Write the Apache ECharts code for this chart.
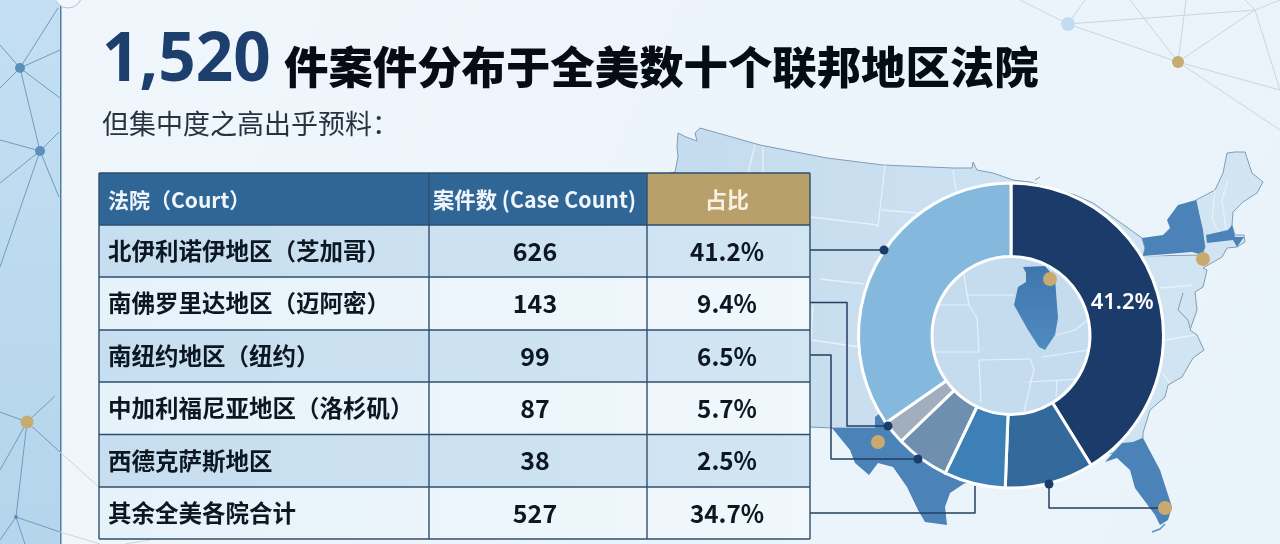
<!DOCTYPE html>
<html><head><meta charset="utf-8">
<style>html,body{margin:0;padding:0;background:#eef5fb}#c{width:1280px;height:544px}</style>
<script src="https://cdn.jsdelivr.net/npm/echarts@6/dist/echarts.min.js"></script>
</head><body><div id="c"></div>
<script>
var titleNumber = '1,520';
var titleText = '件案件分布于全美数十个联邦地区法院';
var subtitle = '但集中度之高出乎预料：';
var headers = ['法院（Court）', '案件数 (Case Count)', '占比'];
var courts = ['北伊利诺伊地区（芝加哥）','南佛罗里达地区（迈阿密）','南纽约地区（纽约）','中加利福尼亚地区（洛杉矶）','西德克萨斯地区','其余全美各院合计'];
var caseCounts = [626,143,99,87,38,527];
var shares = [41.2,9.4,6.5,5.7,2.5,34.7];
var sliceColors = ['#1b3b6b','#336a9b','#3c80b7','#6f8fae','#a0aebd','#85b8dd'];

var CJK = '"Noto Sans CJK SC","Noto Sans",sans-serif';
var g = [];
function poly(pts, fill, stroke, lw, z, closed){
  g.push({type: closed===false?'polyline':'polygon', z:z, silent:true,
    shape:{points:pts}, style:{fill:closed===false?'none':fill, stroke:stroke||'none', lineWidth:lw||0, lineJoin:'round'}});
}
function line(pts, color, lw, z){ poly(pts,null,color,lw,z,false); }
function dot(x,y,r,fill,z){ g.push({type:'circle',z:z,silent:true,shape:{cx:x,cy:y,r:r},style:{fill:fill}}); }
function text(t,x,y,size,color,weight,align,z,sx){
  g.push({type:'text',z:z,silent:true,x:x,y:y,scaleX:sx||1,style:{text:t,fill:color,font:(weight||'normal')+' '+size+'px '+CJK,textAlign:align||'left',textVerticalAlign:'middle'}});
}

/* background */
g.push({type:'rect',z:0,silent:true,shape:{x:0,y:0,width:1280,height:544},style:{fill:new echarts.graphic.LinearGradient(0,0,1,1,[{offset:0,color:'#f0f6fc'},{offset:1,color:'#e9f3fa'}])}});
g.push({type:'rect',z:0,silent:true,shape:{x:0,y:0,width:60,height:544},style:{fill:new echarts.graphic.LinearGradient(0,0,0,1,[{offset:0,color:'#c4dff2'},{offset:1,color:'#b4d5ec'}])}});
g.push({type:'rect',z:0,silent:true,shape:{x:60,y:0,width:1.5,height:544},style:{fill:'#4d7ea6'}});
g.push({type:'circle',z:0,silent:true,shape:{cx:68,cy:-6,r:14},style:{fill:'#f2f7fb',stroke:'#a9c5da',lineWidth:1}});

/* network, left */
var L='#6f9cc0';
[[[20,68],[58,8]],[[20,68],[60,50]],[[20,68],[60,98]],[[20,68],[0,88]],[[20,68],[40,151]],[[20,68],[0,45]],
 [[40,151],[0,140]],[[40,151],[0,183]],[[40,151],[0,267]],[[40,151],[59,197]],[[40,151],[59,132]],
 [[27,422],[55,396]],[[27,422],[0,412]],[[27,422],[0,470]],[[27,422],[16,517]],[[27,422],[60,452]],
 [[16,517],[0,540]],[[16,517],[60,532]],[[16,517],[25,544]]].forEach(function(s){line(s,L,1,1);});
line([[60,452],[100,488]],'#ccd5d8',1,1);
line([[60,532],[100,544]],'#ccd5d8',1,1);
line([[125,544],[150,540]],'#ccd5d8',1,1);
dot(20,68,5,'#5b90bb',2); dot(40,151,5,'#5b90bb',2); dot(27,422,6.5,'#c7ab72',2); dot(16,517,2,'#5b90bb',2);

/* network, top right */
var R='#c9d6dc';
[[[1068,24],[1020,0]],[[1068,24],[1085,0]],[[1068,24],[1255,10]],[[1068,24],[1178,62]],
 [[1178,62],[1130,0]],[[1178,62],[1186,0]],[[1178,62],[1255,10]],[[1178,62],[1280,90]],[[1178,62],[1280,130]],
 [[1255,10],[1280,90]],[[1255,10],[1245,0]],[[1255,10],[1280,0]]].forEach(function(s){line(s,R,1,1);});
dot(1068,24,7,'#c5dcef',2); dot(1178,62,6,'#c7ab72',2);

/* map */
var landFill = new echarts.graphic.LinearGradient(0,0,1,0,[{offset:0,color:'#c4dcee'},{offset:1,color:'#d3e5f3'}]);
var coast='#7f9db8';
poly([[678,133],[686,137],[697,141],[695,133],[700,128],[760,145],[827,158],[883,165],[953,168],[972,168],[973,162],[977,170],[993,173],[1013,180],[1030,182],[1075,195],[1093,203],[1142,238],[1145,248],[1143,256],
 [1202,255],[1205,247],[1196,200],[1215,190],[1223,173],[1227,153],[1235,152],[1245,152],[1252,173],[1263,182],[1257,193],[1243,202],[1233,212],[1232,225],[1235,235],[1244,235],[1245,242],[1237,247],[1227,248],[1222,257],[1203,268],[1207,270],[1203,287],[1195,292],[1197,310],[1190,330],[1197,335],[1204,350],[1193,358],[1182,377],[1168,385],[1165,397],[1150,410],[1143,433],[1143,438],[1113,453],[1040,470],[965,483],[875,428],[832,428],[810,427],[690,427],[670,173],[675,172],[678,157],[677,147]],landFill,coast,1,3);
line([[1035,180],[1040,177]],coast,1,4);
var wl='#e6f1f9';
[[[755,145],[748,173]],[[763,147],[763,173]],[[885,165],[878,227]],[[882,210],[917,213]],[[953,170],[956,190]],[[810,217],[878,225]],
 [[820,279],[864,284]],[[811,340],[860,347]],[[813,305],[811,340]],
 [[1165,340],[1195,335]],[[1162,373],[1170,383]],[[1160,288],[1193,285]],[[1143,256],[1200,252]],
 [[1215,190],[1212,220],[1219,232]],[[1228,180],[1222,200],[1226,230]]].forEach(function(s){line(s,wl,1.3,4);});
line([[1183,293],[1178,310],[1188,320],[1190,328]],coast,1,4);
line([[1152,532],[1160,529],[1165,524]],'#5b8fbd',1.5,4);

var stateBlue = '#4b82b8';
poly([[880,413],[875,417],[875,428],[832,428],[850,450],[855,463],[869,475],[878,463],[893,467],[907,487],[918,510],[925,522],[947,525],[945,507],[950,493],[965,483],[990,470],[960,420]],stateBlue,null,0,4);
poly([[1105,462],[1113,453],[1122,443],[1133,442],[1143,438],[1160,470],[1172,507],[1168,520],[1160,525],[1155,515],[1135,488],[1130,470],[1117,458]],stateBlue,null,0,4);
poly([[1142,238],[1163,235],[1170,228],[1167,220],[1178,205],[1196,200],[1203,230],[1205,247],[1202,255],[1192,252],[1143,256],[1145,248]],stateBlue,null,0,4);
poly([[1206,235],[1228,230],[1232,225],[1235,237],[1244,237],[1237,247],[1233,240],[1207,243]],stateBlue,null,0,4);

/* inner circle */
dot(1011,335.5,79,'#c5dcef',5);
[[[964,275],[969,305]],[[934,305],[969,305],[977,318],[979,352]],[[934,352],[979,352]],[[979,360],[1030,359]],[[979,360],[981,402]],
 [[1030,359],[1034,369],[1024,412]],[[966,295],[1014,295]],[[1089,319],[1075,330],[1056,335]],[[1042,357],[1089,350]],
 [[1028,382],[1079,379]],[[1057,380],[1056,397]]].forEach(function(s){line(s,'#e6f1f9',1.2,6);});
poly([[1023,267],[1045,266],[1055,278],[1056,292],[1058,318],[1055,335],[1045,350],[1039,347],[1028,330],[1014,305],[1018,287],[1026,282],[1026,273]],
  new echarts.graphic.LinearGradient(0,0,0,1,[{offset:0,color:'#3f76ad'},{offset:1,color:'#4f8bc0'}]),null,0,6);
dot(1050,279,7,'#c9a96e',7);
dot(878,442,7,'#c9a96e',7); dot(1203,259,7,'#c9a96e',7); dot(1165,508,7,'#c9a96e',7);

/* table */
var tX=[99,429,647,810], tY=[173,225,277,330,382,434.5,487,539];
var BL='#2e4f6e';
g.push({type:'rect',z:20,silent:true,shape:{x:tX[0],y:tY[0],width:tX[2]-tX[0],height:tY[1]-tY[0]},style:{fill:'#306696'}});
g.push({type:'rect',z:20,silent:true,shape:{x:tX[2],y:tY[0],width:tX[3]-tX[2],height:tY[1]-tY[0]},style:{fill:'#b9a06a'}});
courts.forEach(function(c,i){
  g.push({type:'rect',z:20,silent:true,shape:{x:tX[0],y:tY[i+1],width:tX[3]-tX[0],height:tY[i+2]-tY[i+1]},
    style:{fill:new echarts.graphic.LinearGradient(0,0,1,0, i%2===0?[{offset:0,color:'#c6deef'},{offset:1,color:'#d2e5f3'}]:[{offset:0,color:'#e6f2fa'},{offset:1,color:'#f1f8fc'}])}});
  var cy=(tY[i+1]+tY[i+2])/2;
  text(c,108,cy,23.5,'#0d1722','bold','left',22);
  text(String(caseCounts[i]),535,cy,25,'#0d1722','bold','center',22);
  text(shares[i].toFixed(1)+'%',727,cy,25,'#0d1722','bold','center',22,0.97);
});
tY.forEach(function(y){line([[tX[0],y],[tX[3],y]],BL,1.4,21);});
tX.forEach(function(x){line([[x,tY[0]],[x,tY[7]]],BL,1.4,21);});
text(headers[0],108,200,21,'#f0f6fb','bold','left',22);
text(headers[1],433,200,22,'#f0f6fb','bold','left',22,0.97);
text(headers[2],727,200,22,'#f6f1e2','bold','center',22);

/* connectors */
var rowMid=function(i){return (tY[i+1]+tY[i+2])/2-1;};
var CL='#223f60';
line([[810,rowMid(0)],[884,rowMid(0)]],CL,1.5,15); dot(884,rowMid(0),4.5,'#1b3b6b',16);
line([[810,rowMid(1)],[847,rowMid(1)],[847,426],[888,426]],CL,1.5,15); dot(888,426,4.5,'#1b3b6b',16);
line([[810,rowMid(2)],[831,rowMid(2)],[831,459],[918,459]],CL,1.5,15); dot(918,459,4.5,'#1b3b6b',16);
line([[810,513],[975,513],[975,486]],CL,1.5,15);
line([[1049,484],[1049,508],[1158,508]],CL,1.5,15); dot(1049,484,4.5,'#1b3b6b',16);

/* titles */
g.push({type:'text',z:22,silent:true,x:102,y:61,scaleX:0.95,style:{text:titleNumber,fill:'#1c3f6e',font:'bold 69px "Noto Sans",sans-serif',textAlign:'left',textVerticalAlign:'middle'}});
text(titleText,284,67,44.4,'#060c14','900','left',22);
text(subtitle,102,124,27,'#27333f','normal','left',22);

var chart=echarts.init(document.getElementById('c'),null,{renderer:'canvas'});
chart.setOption({
  animation:false,
  graphic:{elements:g},
  series:[{type:'pie',z:10,center:[1011,335.5],radius:[79,152.5],startAngle:90,clockwise:true,silent:true,
    itemStyle:{borderColor:'#ffffff',borderWidth:3},
    label:{show:false},labelLine:{show:false},
    data:shares.map(function(v,i){
      var d={name:courts[i],value:v,itemStyle:{color:sliceColors[i]}};
      if(i===0){d.label={show:true,position:'inside',offset:[-3,0],formatter:v.toFixed(1)+'%',color:'#fff',fontSize:22,fontWeight:600,fontFamily:'"Noto Sans",sans-serif'};}
      return d;
    })}]
});
</script></body></html>
